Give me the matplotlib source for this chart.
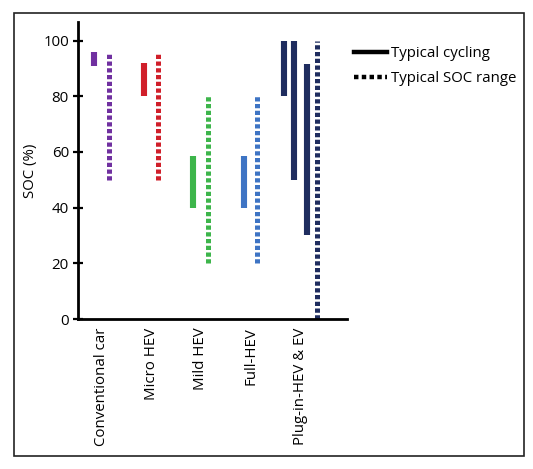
import matplotlib
matplotlib.use("Agg")
import matplotlib.pyplot as plt
from matplotlib.lines import Line2D
from matplotlib.patches import Rectangle

plt.rcParams['font.family'] = ['Open Sans', 'DejaVu Sans']

categories = ['Conventional car', 'Micro HEV', 'Mild HEV', 'Full-HEV', 'Plug-in-HEV & EV']
colors = ['#7030A0', '#D01F2A', '#3DB54B', '#3E74C4', '#1F2D5F']

# typical cycling windows (low, high) per category
cycling = [
    [(91, 96)],
    [(80, 92)],
    [(40, 58.5)],
    [(40, 58.5)],
    [(80, 100), (50, 100), (30, 91.5)],
]
# typical SOC range (low, high) per category
soc_range = [(50, 96), (50, 96), (20, 80), (20, 80), (0, 100)]

# horizontal offsets of the bars within a category group
cycling_offsets = [[-0.14], [-0.14], [-0.16], [-0.14], [-0.33, -0.13, 0.13]]
range_offsets = [0.15, 0.13, 0.15, 0.14, 0.33]

fig = plt.figure(figsize=(5.33, 4.69), dpi=100)
ax = fig.add_axes([78 / 533, 1 - 319 / 469, 269 / 533, 297 / 469])

dash = dict(linestyle=(0, (0.85, 0.5)), dash_capstyle='butt')

for i, col in enumerate(colors):
    for (lo, hi), off in zip(cycling[i], cycling_offsets[i]):
        ax.plot([i + off, i + off], [lo, hi], color=col, lw=4.4,
                solid_capstyle='butt')
    lo, hi = soc_range[i]
    off = range_offsets[i]
    ax.plot([i + off, i + off], [lo, hi], color=col, lw=3.6, **dash)

fs = 10.8
ax.set_xlim(-0.47, 4.94)
ax.set_ylim(0, 106.7)
ax.set_yticks([0, 20, 40, 60, 80, 100])
ax.set_xticks(range(len(categories)))
ax.set_xticklabels(categories, rotation=90, fontsize=fs)
ax.tick_params(axis='x', length=0, pad=6)
ax.tick_params(axis='y', direction='inout', length=7, width=1.6, labelsize=fs, pad=3)
ax.set_ylabel('SOC (%)', fontsize=fs, labelpad=4)

for s in ['top', 'right']:
    ax.spines[s].set_visible(False)
for s in ['left', 'bottom']:
    ax.spines[s].set_linewidth(2)

handles = [
    Line2D([], [], color='black', lw=3.2),
    Line2D([], [], color='black', lw=3.2, linestyle=(0, (1, 0.75)), dash_capstyle='butt'),
]
fig.legend(handles, ['Typical cycling', 'Typical SOC range'],
           loc='upper left', bbox_to_anchor=(354 / 533, 1 - 46 / 469),
           frameon=False, fontsize=fs, handlelength=2.2, handletextpad=0.25,
           labelspacing=0.7, borderpad=0, borderaxespad=0)

fig.patches.append(Rectangle((14 / 533, 1 - 456 / 469), 510 / 533, 443 / 469,
                             transform=fig.transFigure, fill=False,
                             edgecolor='#222222', lw=1.2))

fig.savefig('out.png', dpi=100)
